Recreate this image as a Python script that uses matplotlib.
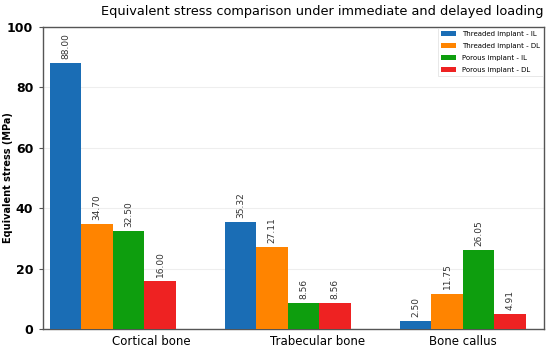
import numpy as np
import matplotlib
matplotlib.use("Agg")
import matplotlib.pyplot as plt

# data
categories = ["Cortical bone", "Trabecular bone", "Bone callus"]
series = ["Threaded implant - IL", "Threaded implant - DL",
          "Porous implant - IL", "Porous implant - DL"]
threaded_il = [88.00, 35.32, 2.50]
threaded_dl = [34.70, 27.11, 11.75]
porous_il = [32.50, 8.56, 26.05]
porous_dl = [16.00, 8.56, 4.91]
values = [threaded_il, threaded_dl, porous_il, porous_dl]
colors = ["#1a6db5", "#ff8400", "#0e9e0e", "#ee2222"]
yticks = [0, 20, 40, 60, 80, 100]

fig = plt.figure(figsize=(5.5, 3.5), dpi=100)
ax = fig.add_axes([0.078, 0.06, 0.911, 0.863])

x = np.arange(len(categories))
w = 0.18
for k, (vals, c, name) in enumerate(zip(values, colors, series)):
    pos = x + (k - 1.5) * w
    ax.bar(pos, vals, width=w, color=c, label=name, zorder=3)
    for p, v in zip(pos, vals):
        ax.annotate("%.2f" % v, (p, v), xytext=(0, 3), textcoords="offset points",
                    rotation=90, ha="center", va="bottom", fontsize=6.5, color="#333333")

ax.set_xlim(-0.4, 2.463)
ax.set_ylim(0, 100)
ax.set_yticks(yticks)
ax.set_yticklabels([str(t) for t in yticks], fontsize=9, fontweight="bold")
ax.tick_params(axis="y", length=3, pad=4, color="#555555")
# category labels sit a bit right of the group centres in the reference
ax.set_xticks([0.22, 1.17, 2.0])
ax.set_xticklabels(categories, fontsize=8.5)
ax.tick_params(axis="x", length=0, pad=4.5)
ax.yaxis.grid(True, color="#eeeeee", lw=0.8, zorder=0)
for s in ax.spines.values():
    s.set_color("#555555")
    s.set_linewidth(1.0)

ax.set_ylabel("Equivalent stress (MPa)", fontsize=7, fontweight="bold", labelpad=2)
ax.yaxis.set_label_coords(-0.059, 0.5)
fig.text(0.989, 0.968, "Equivalent stress comparison under immediate and delayed loading",
         ha="right", va="center", fontsize=9.3)

leg = ax.legend(loc="upper right", fontsize=5, frameon=True, handlelength=2.2,
                handleheight=0.8, labelspacing=0.85, borderaxespad=0.2,
                fancybox=False, edgecolor="#dddddd")
leg.get_frame().set_linewidth(0.6)

fig.savefig("out.png", dpi=100)
